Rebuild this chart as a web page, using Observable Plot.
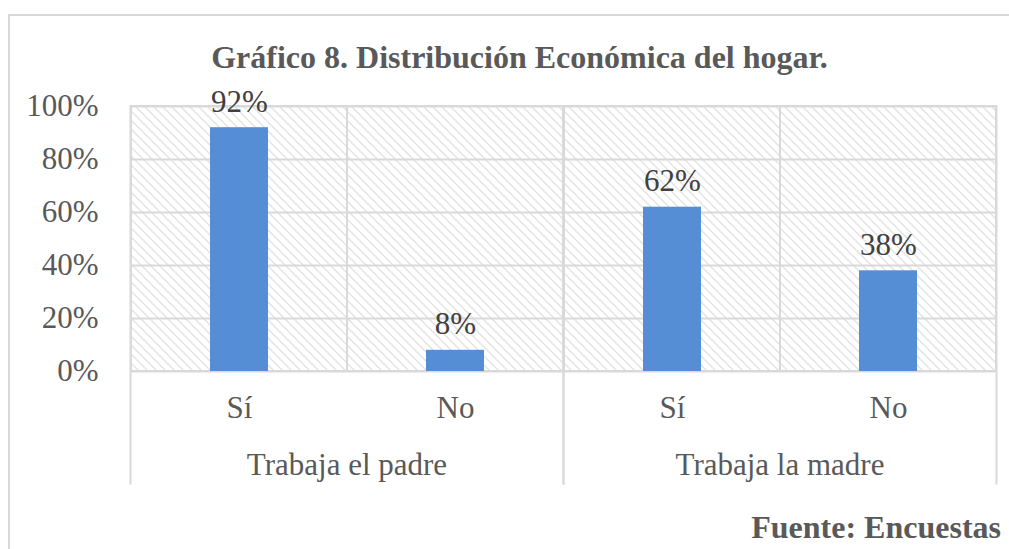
<!DOCTYPE html>
<html>
<head>
<meta charset="utf-8">
<script src="https://cdn.jsdelivr.net/npm/d3@7"></script>
<script src="https://cdn.jsdelivr.net/npm/@observablehq/plot@0.6"></script>
<style>
  html, body { margin: 0; padding: 0; background: #fff; overflow: hidden; }
  #wrap { position: relative; width: 1009px; height: 549px; overflow: hidden; font-family: "Liberation Serif", "Times New Roman", serif; }
  #border { position: absolute; left: 8px; top: 14px; width: 1020px; height: 560px; border-top: 2px solid #d9d9d9; border-left: 2px solid #d9d9d9; }
  #title { position: absolute; left: 30px; top: 41px; width: 979px; text-align: center; font-weight: bold; font-size: 32px; line-height: 32px; color: #595959; white-space: nowrap; }
  #chart { position: absolute; left: 0; top: 80px; }
  #caption { position: absolute; right: 8px; top: 511px; font-weight: bold; font-size: 32px; line-height: 32px; color: #595959; white-space: nowrap; }
</style>
</head>
<body>
<div id="wrap">
  <div id="border"></div>
  <div id="title">Gráfico 8. Distribución Económica del hogar.</div>
  <div id="chart"></div>
  <div id="caption">Fuente: Encuestas</div>
</div>
<script>
const groups = ["Trabaja el padre", "Trabaja la madre"];
const answers = ["Sí", "No"];
const values = [0.92, 0.08, 0.62, 0.38];
const yTicks = [0, 0.2, 0.4, 0.6, 0.8, 1];

const data = [];
groups.forEach((g, i) => answers.forEach((a, j) => data.push({group: g, answer: a, value: values[i * answers.length + j]})));

const font = "'Liberation Serif', 'Times New Roman', serif";
const grid = "#d9d9d9";

const plot = Plot.plot({
  width: 1009,
  height: 420,
  marginLeft: 129,
  marginRight: 13,
  marginTop: 26,
  marginBottom: 129,
  style: {fontFamily: font, fontSize: "31px", background: "transparent"},
  fx: {domain: groups, padding: 0, label: null},
  x: {domain: answers, padding: 0, label: null},
  y: {domain: [0, 1], label: null},
  marks: [
    Plot.barY(data, {fx: "group", x: "answer", y1: 0, y2: 1, fill: "url(#hatch)", stroke: grid, strokeWidth: 2}),
    Plot.ruleY(yTicks, {stroke: grid, strokeWidth: 2}),
    Plot.frame({anchor: "left", insetBottom: -112, stroke: grid, strokeWidth: 2}),
    Plot.frame({anchor: "right", insetBottom: -112, stroke: grid, strokeWidth: 2}),
    Plot.barY(data, {fx: "group", x: "answer", y: "value", fill: "#558ed5", insetLeft: 79, insetRight: 79}),
    Plot.text(data, {fx: "group", x: "answer", y: "value", text: d => Math.round(d.value * 100) + "%", lineAnchor: "bottom", dy: -16, fontSize: 31, fill: "#404040"}),
    Plot.axisY({ticks: yTicks, tickFormat: d => Math.round(d * 100) + "%", tickSize: 0, tickPadding: 32, fontSize: 31, color: "#595959", label: null}),
    Plot.axisX({anchor: "bottom", tickSize: 0, tickPadding: 24, fontSize: 31, color: "#595959", label: null}),
    Plot.axisFx({anchor: "bottom", tickSize: 0, tickPadding: 81, fontSize: 31, color: "#595959", label: null})
  ]
});

d3.select(plot).insert("defs", ":first-child").html(
  '<pattern id="hatch" patternUnits="userSpaceOnUse" width="9" height="9">' +
  '<rect width="9" height="9" fill="#ffffff"/>' +
  '<path d="M0,0 L9,9 M-1,8 L1,10 M8,-1 L10,1" stroke="#e3e3e3" stroke-width="1.4"/>' +
  '</pattern>'
);

document.getElementById("chart").appendChild(plot);
</script>
</body>
</html>
